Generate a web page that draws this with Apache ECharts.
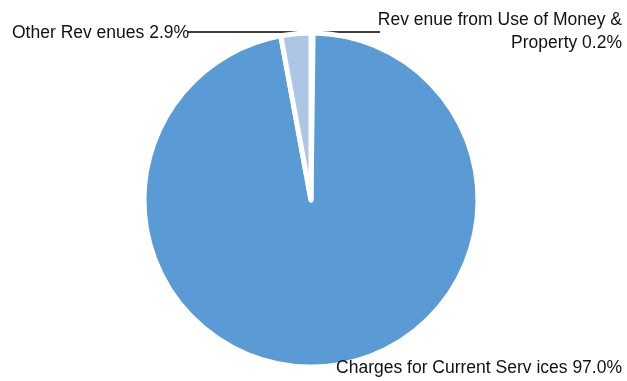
<!DOCTYPE html>
<html>
<head>
<meta charset="utf-8">
<script src="https://cdn.jsdelivr.net/npm/echarts@6/dist/echarts.min.js"></script>
<style>
  html, body { margin: 0; padding: 0; background: #fff; }
  #chart { width: 627px; height: 381px; }
</style>
</head>
<body>
<div id="chart"></div>
<script>
// Revenue sources, in clockwise order from 12 o'clock
var categories = [
  'Rev enue from Use of Money &\nProperty',
  'Charges for Current Serv ices',
  'Other Rev enues'
];
var shares = [0.2, 97.0, 2.9];
var sliceColors = ['#8FB2DD', '#5B9BD5', '#ADC6E6'];

// Label anchor points and leader-line routes (pixels)
var labelSpots = [
  { x: 622, y: 32, align: 'right', line: [[316, 32], [348, 32], [380, 32]] },
  { x: 622, y: 368, align: 'right', line: [[326, 366], [333, 366], [340, 366]] },
  { x: 12, y: 33, align: 'left', line: [[297, 32], [240, 32], [188, 32]] }
];

var chart = echarts.init(document.getElementById('chart'), null, { renderer: 'canvas' });

chart.setOption({
  animation: false,
  backgroundColor: '#ffffff',
  series: [{
    type: 'pie',
    center: [311, 200],
    radius: 167,
    startAngle: 90,
    clockwise: true,
    avoidLabelOverlap: false,
    data: categories.map(function (name, i) {
      return { name: name, value: shares[i], itemStyle: { color: sliceColors[i] } };
    }),
    itemStyle: { borderColor: '#ffffff', borderWidth: 5 },
    label: {
      show: true,
      fontFamily: '"Liberation Sans", Arial, sans-serif',
      fontSize: 17.5,
      lineHeight: 23,
      color: '#111111',
      formatter: function (p) {
        return p.name + ' ' + p.value.toFixed(1) + '%';
      }
    },
    labelLine: {
      show: true,
      lineStyle: { color: '#000000', width: 1.6 }
    },
    labelLayout: function (params) {
      var s = labelSpots[params.dataIndex];
      return {
        x: s.x,
        y: s.y,
        align: s.align,
        verticalAlign: 'middle',
        labelLinePoints: s.line
      };
    }
  }]
});
</script>
</body>
</html>
